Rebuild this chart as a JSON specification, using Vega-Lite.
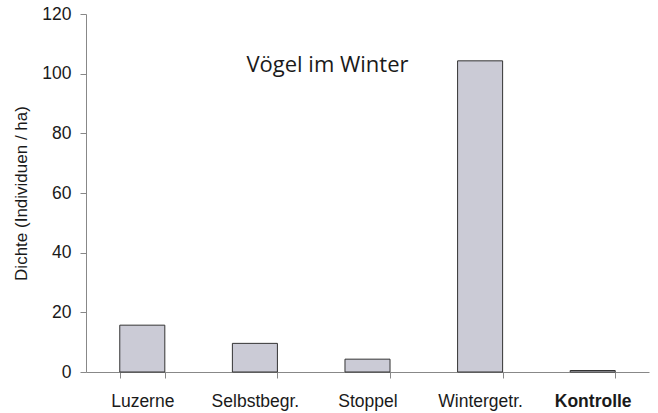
{
  "$schema": "https://vega.github.io/schema/vega-lite/v6.json",
  "autosize": {"type": "none"},
  "padding": {"left": 86, "top": 14, "right": 9, "bottom": 41},
  "width": 563,
  "height": 358,
  "background": "white",
  "config": {"view": {"stroke": null}},
  "layer": [
    {
      "data": {"values": [
        {"Habitat": "Luzerne", "Dichte": 15.7},
        {"Habitat": "Selbstbegr.", "Dichte": 9.6},
        {"Habitat": "Stoppel", "Dichte": 4.3},
        {"Habitat": "Wintergetr.", "Dichte": 104.3},
        {"Habitat": "Kontrolle", "Dichte": 0.5}
      ]},
      "mark": {"type": "bar", "fill": "#cbcbd6", "stroke": "#333333", "strokeWidth": 1},
      "encoding": {
        "x": {
          "field": "Habitat", "type": "nominal", "sort": null,
          "scale": {"paddingInner": 0.6, "paddingOuter": 0.3},
          "axis": {
            "title": null, "labelAngle": 0, "tickBand": "extent",
            "domainColor": "#888888", "tickColor": "#888888", "tickSize": 6,
            "labelFont": "Liberation Sans", "labelFontSize": 17.5, "labelColor": "#1a1a1a",
            "labelPadding": 14,
            "labelFontWeight": {"condition": {"test": "datum.value === 'Kontrolle'", "value": "bold"}, "value": "normal"}
          }
        },
        "y": {
          "field": "Dichte", "type": "quantitative",
          "scale": {"domain": [0, 120], "nice": false},
          "axis": {
            "title": "Dichte (Individuen / ha)", "values": [0, 20, 40, 60, 80, 100, 120],
            "grid": false, "domainColor": "#888888", "tickColor": "#888888", "tickSize": 6,
            "labelFont": "Liberation Sans", "labelFontSize": 17.5, "labelColor": "#1a1a1a", "labelPadding": 9,
            "titleFont": "Liberation Sans", "titleFontSize": 17, "titleFontWeight": "normal", "titleColor": "#1a1a1a",
            "titlePadding": 11
          }
        }
      }
    },
    {
      "data": {"values": [{"Habitat": "Stoppel", "Dichte": 100.5, "label": "Vögel im Winter"}]},
      "mark": {"type": "text", "font": "Open Sans", "fontSize": 22, "color": "#1a1a1a", "align": "center", "baseline": "alphabetic", "dx": -40},
      "encoding": {
        "x": {"field": "Habitat", "type": "nominal", "sort": null},
        "y": {"field": "Dichte", "type": "quantitative"},
        "text": {"field": "label"}
      }
    }
  ]
}
